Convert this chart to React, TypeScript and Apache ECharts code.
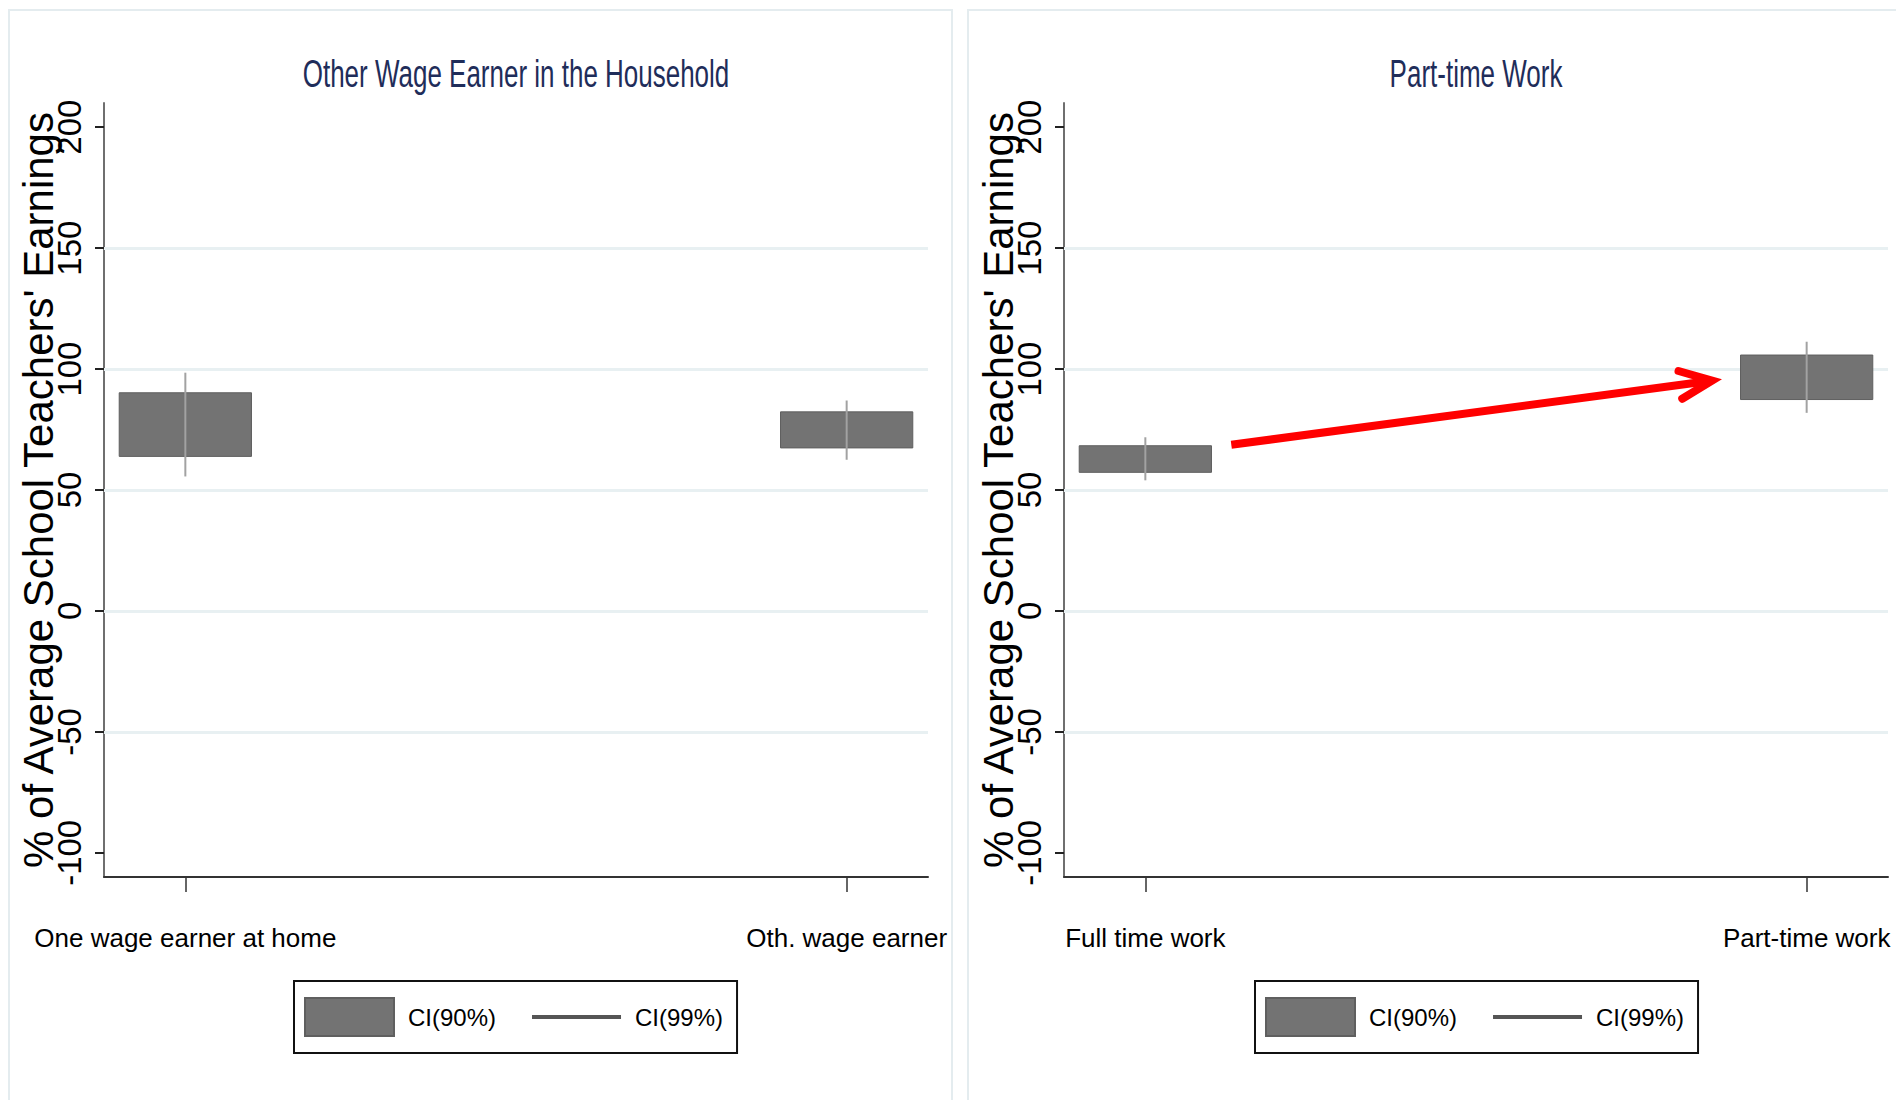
import React, { useEffect, useRef } from 'react';
import * as echarts from 'echarts';

// ---------------- data ----------------
const leftTitle = 'Other Wage Earner in the Household';
const rightTitle = 'Part-time Work';
const yAxisTitle = "% of Average School Teachers' Earnings";
const leftCategories = ['One wage earner at home', 'Oth. wage earner'];
const rightCategories = ['Full time work', 'Part-time work'];
const yTickValues = [-100, -50, 0, 50, 100, 150, 200];
const gridLineValues = [-50, 0, 50, 100, 150];
const legendNames = ['CI(90%)', 'CI(99%)'];

const leftCI90Low = [63.9, 67.4];
const leftCI90High = [90.2, 82.3];
const leftCI99Low = [55.6, 62.5];
const leftCI99High = [98.5, 87.0];

const rightCI90Low = [57.3, 87.4];
const rightCI90High = [68.3, 105.8];
const rightCI99Low = [54.0, 81.9];
const rightCI99High = [71.8, 111.3];

// annotation arrow in data coordinates of the right panel
const arrowFrom = [1.13, 68.7];
const arrowTo = [1.857, 95.2];

// ---------------- styles ----------------
const SANS = '"Liberation Sans", Arial, Helvetica, sans-serif';
const BOX_HALF = 0.1;

const renderBox = (_params: any, api: any) => {
  const x = api.value(0);
  const lo = api.value(1);
  const hi = api.value(2);
  const p1 = api.coord([x - BOX_HALF, hi]);
  const p2 = api.coord([x + BOX_HALF, lo]);
  return {
    type: 'rect',
    shape: { x: p1[0], y: p1[1], width: p2[0] - p1[0], height: p2[1] - p1[1] },
    style: { fill: '#737373', stroke: '#5f5f5f', lineWidth: 1 },
  };
};

const renderWhisker = (_params: any, api: any) => {
  const x = api.value(0);
  const p1 = api.coord([x, api.value(2)]);
  const p2 = api.coord([x, api.value(1)]);
  return {
    type: 'line',
    shape: { x1: p1[0], y1: p1[1], x2: p2[0], y2: p2[1] },
    style: { stroke: '#a2a2a2', lineWidth: 2 },
  };
};

const renderArrow = (_params: any, api: any) => {
  const a = api.coord([api.value(0), api.value(1)]);
  const b = api.coord([api.value(2), api.value(3)]);
  const dx = b[0] - a[0];
  const dy = b[1] - a[1];
  const len = Math.hypot(dx, dy);
  const ux = dx / len;
  const uy = dy / len;
  const nx = -uy;
  const ny = ux;
  const back = 32;
  const side = 14;
  const w1 = [b[0] - ux * back + nx * side, b[1] - uy * back + ny * side];
  const w2 = [b[0] - ux * back - nx * side, b[1] - uy * back - ny * side];
  return {
    type: 'group',
    children: [
      {
        type: 'line',
        shape: { x1: a[0], y1: a[1], x2: b[0] - ux * 5, y2: b[1] - uy * 5 },
        style: { stroke: '#ff0000', lineWidth: 8, lineCap: 'butt' },
      },
      {
        type: 'polyline',
        shape: { points: [w1, b, w2] },
        style: { stroke: '#ff0000', fill: 'none', lineWidth: 8, lineCap: 'round', lineJoin: 'miter' },
      },
    ],
  };
};

const makeXAxis = (gridIndex: number, cats: string[]) => ({
  type: 'value',
  gridIndex,
  min: 0.877,
  max: 2.123,
  axisLine: { show: true, onZero: false, lineStyle: { color: '#333333', width: 2 } },
  axisTick: { show: true, length: 15, lineStyle: { color: '#333333', width: 1.5 }, customValues: [1, 2] },
  axisLabel: {
    show: true,
    customValues: [1, 2],
    formatter: (v: number) => cats[Math.round(v) - 1] ?? '',
    margin: 48,
    fontFamily: SANS,
    fontSize: 26,
    color: '#000000',
  },
  splitLine: { show: false },
});

const makeYAxis = (gridIndex: number) => ({
  type: 'value',
  gridIndex,
  min: -110,
  max: 210,
  name: yAxisTitle,
  nameLocation: 'middle',
  nameRotate: 90,
  nameGap: 45,
  nameMoveOverlap: false,
  nameTextStyle: { fontFamily: SANS, fontSize: 42, color: '#000000' },
  axisLine: { show: true, onZero: false, lineStyle: { color: '#6f6f6f', width: 2 } },
  axisTick: { show: true, length: 9, lineStyle: { color: '#222222', width: 2 }, customValues: yTickValues },
  axisLabel: {
    show: true,
    rotate: 90,
    margin: 18,
    fontFamily: SANS,
    fontSize: 33,
    color: '#000000',
    customValues: yTickValues,
  },
  splitLine: { show: false },
});

const gridMarkLine = {
  silent: true,
  symbol: ['none', 'none'],
  z: 1,
  label: { show: false },
  emphasis: { disabled: true },
  lineStyle: { color: '#e8f0f2', width: 3, type: 'solid' },
  data: gridLineValues.map((v) => ({ yAxis: v })),
};

const makeLegend = (left: number) => ({
  orient: 'horizontal',
  left,
  top: 981,
  itemWidth: 89,
  itemHeight: 38,
  itemGap: 36,
  padding: [16, 14, 16, 10],
  borderColor: '#111111',
  borderWidth: 2,
  selectedMode: false,
  textStyle: { fontFamily: SANS, fontSize: 24, color: '#000000', padding: [0, 0, 0, 9] },
  data: [
    { name: legendNames[0], icon: 'rect' },
    { name: legendNames[1], icon: 'path://M0,0M89,38M0,17H89V21H0Z' },
  ],
});

const makeTitle = (text: string, x: number) => ({
  type: 'text',
  x,
  y: 73,
  scaleY: 1.5,
  silent: true,
  style: {
    text,
    fill: '#1f2d5a',
    fontFamily: SANS,
    fontSize: 26,
    align: 'center',
    verticalAlign: 'middle',
    textAlign: 'center',
    textVerticalAlign: 'middle',
  },
});

export default function App() {
  const ref = useRef<HTMLDivElement>(null);

  useEffect(() => {
    if (!ref.current) return;
    const chart = echarts.init(ref.current, null, { renderer: 'svg' });

    const leftBoxData = leftCategories.map((_, i) => [i + 1, leftCI90Low[i], leftCI90High[i]]);
    const leftWhiskerData = leftCategories.map((_, i) => [i + 1, leftCI99Low[i], leftCI99High[i]]);
    const rightBoxData = rightCategories.map((_, i) => [i + 1, rightCI90Low[i], rightCI90High[i]]);
    const rightWhiskerData = rightCategories.map((_, i) => [i + 1, rightCI99Low[i], rightCI99High[i]]);

    const option: any = {
      animation: false,
      backgroundColor: '#ffffff',
      grid: [
        { left: 104, right: 968, top: 103, bottom: 223, containLabel: false, outerBoundsMode: 'none' },
        { left: 1064, right: 8, top: 103, bottom: 223, containLabel: false, outerBoundsMode: 'none' },
      ],
      xAxis: [makeXAxis(0, leftCategories), makeXAxis(1, rightCategories)],
      yAxis: [makeYAxis(0), makeYAxis(1)],
      legend: [makeLegend(294), makeLegend(1255)],
      graphic: [
        {
          type: 'rect',
          z: -10,
          silent: true,
          shape: { x: 9, y: 10, width: 943, height: 1100 },
          style: { fill: 'none', stroke: '#e4ecef', lineWidth: 2 },
        },
        {
          type: 'rect',
          z: -10,
          silent: true,
          shape: { x: 968, y: 10, width: 1000, height: 1100 },
          style: { fill: 'none', stroke: '#e4ecef', lineWidth: 2 },
        },
        makeTitle(leftTitle, 516),
        makeTitle(rightTitle, 1476),
      ],
      series: [
        {
          type: 'custom',
          name: legendNames[0],
          xAxisIndex: 0,
          yAxisIndex: 0,
          z: 2,
          renderItem: renderBox,
          itemStyle: { color: '#737373', borderColor: '#5f5f5f', borderWidth: 1 },
          encode: { x: 0, y: [1, 2] },
          data: leftBoxData,
          markLine: gridMarkLine,
        },
        {
          type: 'custom',
          name: legendNames[1],
          xAxisIndex: 0,
          yAxisIndex: 0,
          z: 3,
          renderItem: renderWhisker,
          itemStyle: { color: '#555555', borderWidth: 0 },
          encode: { x: 0, y: [1, 2] },
          data: leftWhiskerData,
        },
        {
          type: 'custom',
          name: legendNames[0],
          xAxisIndex: 1,
          yAxisIndex: 1,
          z: 2,
          renderItem: renderBox,
          itemStyle: { color: '#737373', borderColor: '#5f5f5f', borderWidth: 1 },
          encode: { x: 0, y: [1, 2] },
          data: rightBoxData,
          markLine: gridMarkLine,
        },
        {
          type: 'custom',
          name: legendNames[1],
          xAxisIndex: 1,
          yAxisIndex: 1,
          z: 3,
          renderItem: renderWhisker,
          itemStyle: { color: '#555555', borderWidth: 0 },
          encode: { x: 0, y: [1, 2] },
          data: rightWhiskerData,
        },
        {
          type: 'custom',
          name: 'arrow',
          xAxisIndex: 1,
          yAxisIndex: 1,
          z: 4,
          silent: true,
          renderItem: renderArrow,
          encode: { x: [0, 2], y: [1, 3] },
          data: [[arrowFrom[0], arrowFrom[1], arrowTo[0], arrowTo[1]]],
        },
      ],
    };

    chart.setOption(option);
    return () => {
      chart.dispose();
    };
  }, []);

  return (
    <div
      ref={ref}
      style={{ position: 'fixed', left: 0, top: 0, width: 1896, height: 1100, background: '#ffffff' }}
    />
  );
}
